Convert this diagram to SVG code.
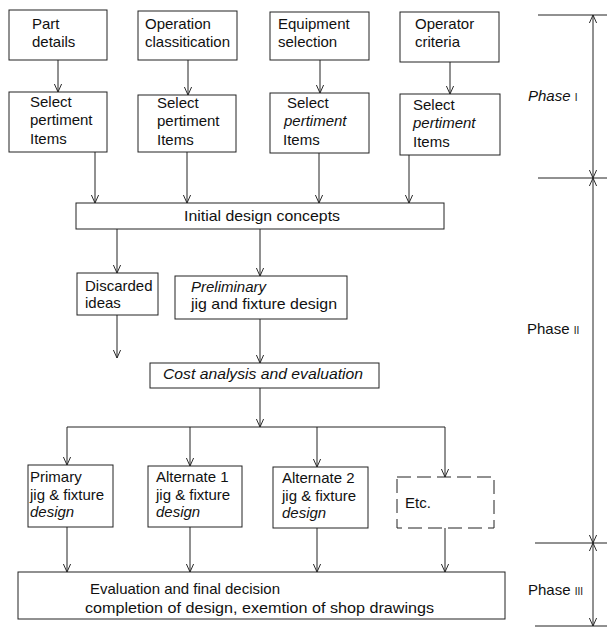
<svg xmlns="http://www.w3.org/2000/svg" width="607" height="628" viewBox="0 0 607 628">
<style>
  .box{fill:#fff;stroke:#222;stroke-width:1}
  .dash{fill:#fff;stroke:#222;stroke-width:1;stroke-dasharray:14 6}
  .t{font-family:"Liberation Sans",Arial,sans-serif;font-size:15px;fill:#111}
  .i{font-style:italic}
  .n{font-size:10px}
  .c line,.c path{stroke:#222;stroke-width:1;fill:none}
  .ar{marker-end:url(#ah)}
  .dim{marker-start:url(#ah);marker-end:url(#ah)}
</style>
<defs>
  <marker id="ah" viewBox="0 0 10 10" refX="10" refY="5" markerWidth="10" markerHeight="8" markerUnits="userSpaceOnUse" orient="auto-start-reverse">
    <path d="M0,0.5 L10,5 L0,9.5" fill="none" stroke="#222" stroke-width="1.2"/>
  </marker>
</defs>

<g id="part-details"><rect class="box" x="9" y="10" width="98" height="50"/><text class="t" x="32" y="29">Part</text><text class="t" x="32" y="47">details</text></g>
<g id="operation-classification"><rect class="box" x="138" y="11" width="99" height="49"/><text class="t" x="145" y="29">Operation</text><text class="t" x="145" y="47">classitication</text></g>
<g id="equipment-selection"><rect class="box" x="270" y="12" width="99" height="48"/><text class="t" x="278" y="29">Equipment</text><text class="t" x="278" y="47">selection</text></g>
<g id="operator-criteria"><rect class="box" x="400" y="12" width="99" height="50"/><text class="t" x="415" y="29">Operator</text><text class="t" x="415" y="47">criteria</text></g>

<g id="select-1"><rect class="box" x="9" y="92" width="98" height="60"/><text class="t" x="30" y="107">Select</text><text class="t" x="30" y="125">pertiment</text><text class="t" x="30" y="144">Items</text></g>
<g id="select-2"><rect class="box" x="138" y="95" width="98" height="57"/><text class="t" x="157" y="108">Select</text><text class="t" x="157" y="126">pertiment</text><text class="t" x="157" y="145">Items</text></g>
<g id="select-3"><rect class="box" x="270" y="93" width="99" height="60"/><text class="t" x="287" y="108">Select</text><text class="t i" x="284" y="126">pertiment</text><text class="t" x="283" y="145">Items</text></g>
<g id="select-4"><rect class="box" x="400" y="94" width="100" height="61"/><text class="t" x="413" y="110">Select</text><text class="t i" x="413" y="128">pertiment</text><text class="t" x="413" y="147">Items</text></g>

<g id="initial-design-concepts"><rect class="box" x="76" y="203" width="368" height="26"/><text class="t" x="184" y="221" textLength="156" lengthAdjust="spacingAndGlyphs">Initial design concepts</text></g>
<g id="discarded-ideas"><rect class="box" x="77" y="273" width="81" height="42"/><text class="t" x="85" y="291">Discarded</text><text class="t" x="85" y="308">ideas</text></g>
<g id="preliminary-design"><rect class="box" x="175" y="276" width="172" height="43"/><text class="t i" x="191" y="292">Preliminary</text><text class="t" x="191" y="309" textLength="146" lengthAdjust="spacingAndGlyphs">jig and fixture design</text></g>
<g id="cost-analysis"><rect class="box" x="150" y="363" width="229" height="25"/><text class="t i" x="163" y="379" textLength="200" lengthAdjust="spacingAndGlyphs">Cost analysis and evaluation</text></g>

<g id="primary-design"><rect class="box" x="28" y="465" width="85" height="62"/><text class="t" x="30" y="482">Primary</text><text class="t" x="30" y="500">jig &amp; fixture</text><text class="t i" x="30" y="517">design</text></g>
<g id="alternate-1"><rect class="box" x="148" y="466" width="94" height="61"/><text class="t" x="156" y="482">Alternate 1</text><text class="t" x="156" y="500">jig &amp; fixture</text><text class="t i" x="156" y="517">design</text></g>
<g id="alternate-2"><rect class="box" x="273" y="467" width="95" height="61"/><text class="t" x="282" y="483">Alternate 2</text><text class="t" x="282" y="501">jig &amp; fixture</text><text class="t i" x="282" y="518">design</text></g>
<g id="etc"><rect class="dash" x="397" y="477" width="97" height="51"/><text class="t" x="405" y="508">Etc.</text></g>

<g id="evaluation-final"><rect class="box" x="18" y="572" width="487" height="47"/><text class="t" x="90" y="594" textLength="190" lengthAdjust="spacingAndGlyphs">Evaluation and final decision</text><text class="t" x="85" y="613" textLength="349" lengthAdjust="spacingAndGlyphs">completion of design, exemtion of shop drawings</text></g>

<g id="phases">
  <text class="t" x="528" y="101"><tspan class="i">Phase</tspan> <tspan class="n">I</tspan></text>
  <text class="t" x="527" y="334">Phase <tspan class="n">II</tspan></text>
  <text class="t" x="528" y="595">Phase <tspan class="n">III</tspan></text>
</g>

<g id="connectors" class="c">
  <line class="ar" x1="58" y1="60" x2="58" y2="92"/>
  <line class="ar" x1="188" y1="60" x2="188" y2="95"/>
  <line class="ar" x1="320" y1="60" x2="320" y2="93"/>
  <line class="ar" x1="450" y1="62" x2="450" y2="94"/>
  <line class="ar" x1="95" y1="152" x2="95" y2="203"/>
  <line class="ar" x1="187" y1="152" x2="187" y2="203"/>
  <line class="ar" x1="319" y1="153" x2="319" y2="203"/>
  <line class="ar" x1="409" y1="155" x2="409" y2="203"/>
  <line class="ar" x1="117" y1="229" x2="117" y2="273"/>
  <line class="ar" x1="260" y1="229" x2="260" y2="276"/>
  <line class="ar" x1="117" y1="315" x2="117" y2="358"/>
  <line class="ar" x1="260" y1="319" x2="260" y2="363"/>
  <line class="ar" x1="260" y1="388" x2="260" y2="427"/>
  <line x1="67" y1="427" x2="445" y2="427"/>
  <line class="ar" x1="67" y1="427" x2="67" y2="465"/>
  <line class="ar" x1="190" y1="427" x2="190" y2="466"/>
  <line class="ar" x1="317" y1="427" x2="317" y2="467"/>
  <line class="ar" x1="445" y1="427" x2="445" y2="477"/>
  <line class="ar" x1="67" y1="527" x2="67" y2="572"/>
  <line class="ar" x1="190" y1="527" x2="190" y2="572"/>
  <line class="ar" x1="317" y1="528" x2="317" y2="572"/>
  <line class="ar" x1="445" y1="528" x2="445" y2="572"/>
  <line x1="538" y1="15" x2="607" y2="15"/>
  <line x1="538" y1="178" x2="607" y2="178"/>
  <line x1="535" y1="543" x2="607" y2="543"/>
  <line x1="535" y1="626" x2="607" y2="626"/>
  <line class="dim" x1="593" y1="15" x2="593" y2="178"/>
  <line class="dim" x1="593" y1="178" x2="593" y2="543"/>
  <line class="dim" x1="593" y1="543" x2="593" y2="626"/>
</g>
</svg>
